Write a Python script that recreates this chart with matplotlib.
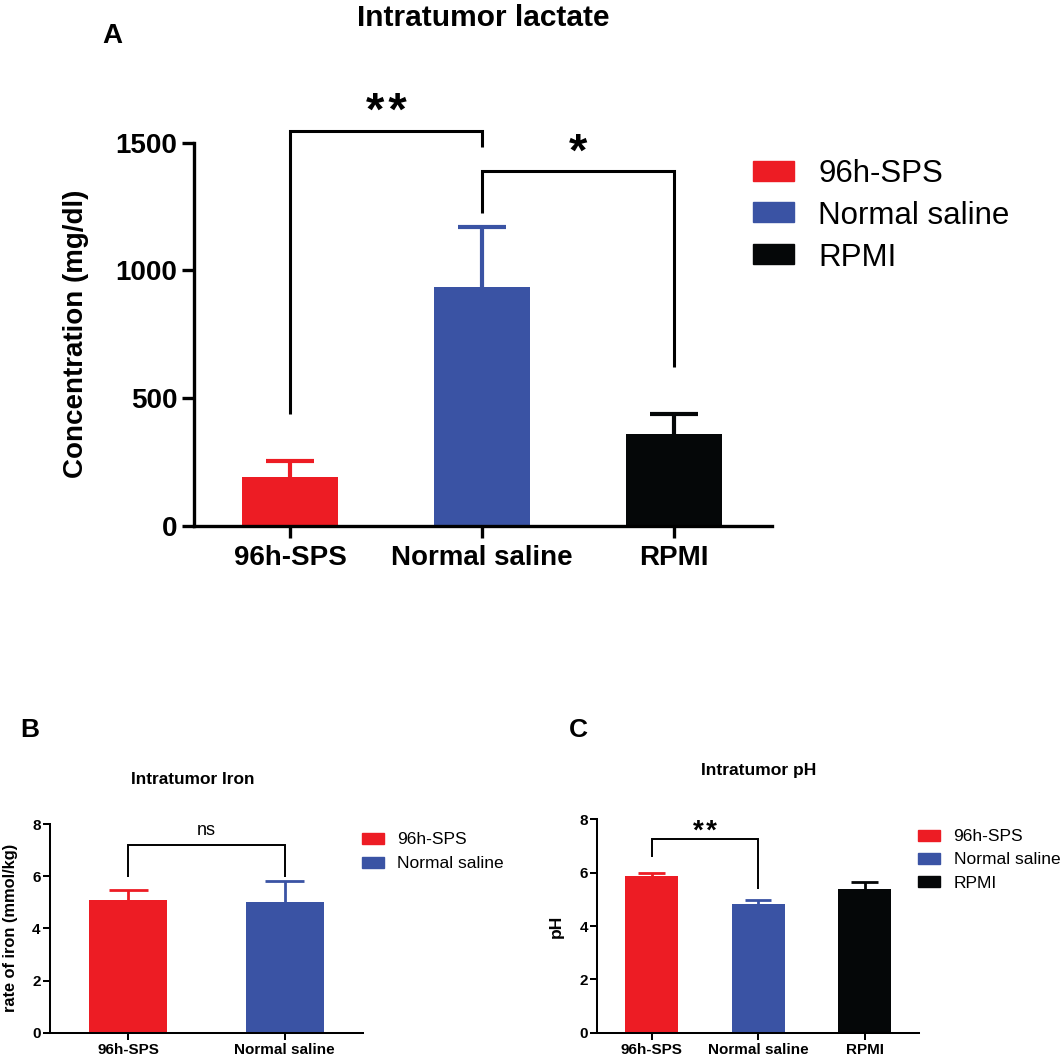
import matplotlib
matplotlib.use("Agg")
import matplotlib.pyplot as plt
from matplotlib.patches import Rectangle

plt.rcParams['font.family'] = ['Liberation Sans', 'DejaVu Sans']

# ---- data ----
groups = ["96h-SPS", "Normal saline", "RPMI"]
group_colors = ["#ED1C24", "#3A53A4", "#050708"]

lactate_mean = [192, 935, 360]
lactate_sd = [60, 235, 78]

iron_groups = ["96h-SPS", "Normal saline"]
iron_mean = [5.09, 5.0]
iron_sd = [0.39, 0.81]

ph_mean = [5.89, 4.81, 5.39]
ph_sd = [0.10, 0.15, 0.27]

W, H = 1063, 1058
fig = plt.figure(figsize=(W / 100, H / 100), dpi=100)


def px_axes(left, top, right, bottom):
    return fig.add_axes([left / W, 1 - bottom / H, (right - left) / W, (bottom - top) / H])


def style_axes(ax, lw, ticklen, tickfs, pad_x, pad_y):
    for s in ["top", "right"]:
        ax.spines[s].set_visible(False)
    for s in ["left", "bottom"]:
        ax.spines[s].set_linewidth(lw)
    ax.tick_params(axis="both", width=lw, length=ticklen, labelsize=tickfs)
    ax.tick_params(axis="x", pad=pad_x)
    ax.tick_params(axis="y", pad=pad_y)
    for lab in ax.get_xticklabels() + ax.get_yticklabels():
        lab.set_fontweight("bold")


def draw_bars(ax, labels, means, sds, elw):
    x = list(range(len(labels)))
    cols = group_colors[:len(labels)]
    ax.bar(x, means, width=0.5, color=cols, zorder=2)
    tops = [m + s for m, s in zip(means, sds)]
    # mean + SD only, cap as wide as half the bar
    ax.vlines(x, means, tops, colors=cols, lw=elw, zorder=1)
    ax.hlines(tops, [i - 0.125 for i in x], [i + 0.125 for i in x], colors=cols, lw=elw, zorder=1)
    ax.set_xticks(x)
    ax.set_xticklabels(labels)


def bracket(ax, i, j, yl, ytop, yr, text, ty, fs, lw, weight="bold"):
    ax.plot([i, i, j, j], [yl, ytop, ytop, yr], color="black", lw=lw,
            clip_on=False, solid_capstyle="butt", solid_joinstyle="miter")
    ax.text((i + j) / 2, ty, text, ha="center", va="baseline", fontsize=fs,
            fontweight=weight, clip_on=False)


def legend(labels, x_box, y_centers, bw, bh, x_text, fs):
    for lab, col, yc in zip(labels, group_colors, y_centers):
        fig.add_artist(Rectangle((x_box / W, 1 - (yc + bh / 2) / H), bw / W, bh / H,
                                 transform=fig.transFigure, color=col))
        fig.text(x_text / W, 1 - yc / H, lab, ha="left", va="center_baseline", fontsize=fs)


STARS2 = "*\u200a*"

# ---- panel A ----
axA = px_axes(194.3, 142.7, 772, 525.7)
draw_bars(axA, groups, lactate_mean, lactate_sd, elw=3)
axA.set_xlim(-0.5, 2.51)
axA.set_ylim(0, 1500)
axA.set_yticks([0, 500, 1000, 1500])
style_axes(axA, lw=2.4, ticklen=8.6, tickfs=20, pad_x=5, pad_y=3.6)
axA.set_ylabel("Concentration (mg/dl)", fontsize=20, fontweight="bold")
axA.yaxis.set_label_coords(-0.182, 0.5)
bracket(axA, 0, 1, 437, 1547, 1485, STARS2, 1568, 34, 2.2)
bracket(axA, 1, 2, 1223, 1391, 622, "*", 1410, 34, 2.2)
fig.text(483 / W, 1 - 26 / H, "Intratumor lactate", ha="center", va="baseline",
         fontsize=21.5, fontweight="bold")
fig.text(112 / W, 1 - 43 / H, "A", ha="center", va="baseline", fontsize=20, fontweight="bold")
legend(groups, 753, [170.7, 212, 254], 41, 20, 818, 22.5)

# ---- panel B ----
axB = px_axes(50, 824, 363, 1032.7)
draw_bars(axB, iron_groups, iron_mean, iron_sd, elw=2)
axB.set_xlim(-0.5, 1.5)
axB.set_ylim(0, 8)
axB.set_yticks([0, 2, 4, 6, 8])
style_axes(axB, lw=1.45, ticklen=4.8, tickfs=11, pad_x=2.6, pad_y=2)
axB.set_ylabel("rate of iron (mmol/kg)", fontsize=11.8, fontweight="bold")
axB.yaxis.set_label_coords((18.5 - 50) / 313, 0.5)
bracket(axB, 0, 1, 5.98, 7.19, 5.98, "ns", 7.59, 13, 1.4, weight="normal")
fig.text(192.6 / W, 1 - 784 / H, "Intratumor Iron", ha="center", va="baseline",
         fontsize=12.4, fontweight="bold")
fig.text(30 / W, 1 - 737 / H, "B", ha="center", va="baseline", fontsize=19, fontweight="bold")
legend(iron_groups, 362, [838.5, 862], 22, 11, 397, 12.5)

# ---- panel C ----
axC = px_axes(597.3, 819.3, 919, 1032.7)
draw_bars(axC, groups, ph_mean, ph_sd, elw=2)
axC.set_xlim(-0.51, 2.51)
axC.set_ylim(0, 8)
axC.set_yticks([0, 2, 4, 6, 8])
style_axes(axC, lw=1.45, ticklen=4.8, tickfs=11, pad_x=2.6, pad_y=2)
axC.set_ylabel("pH", fontsize=12.5, fontweight="bold")
axC.yaxis.set_label_coords((564 - 597.3) / 321.7, 0.5)
bracket(axC, 0, 1, 6.58, 7.26, 5.375, STARS2, 7.28, 20, 1.4)
fig.text(758.6 / W, 1 - 775 / H, "Intratumor pH", ha="center", va="baseline",
         fontsize=12.6, fontweight="bold")
fig.text(578 / W, 1 - 737 / H, "C", ha="center", va="baseline", fontsize=19, fontweight="bold")
legend(groups, 918, [835, 858.3, 881.7], 22, 11, 953.5, 12.5)

fig.savefig("out.png", dpi=100)
